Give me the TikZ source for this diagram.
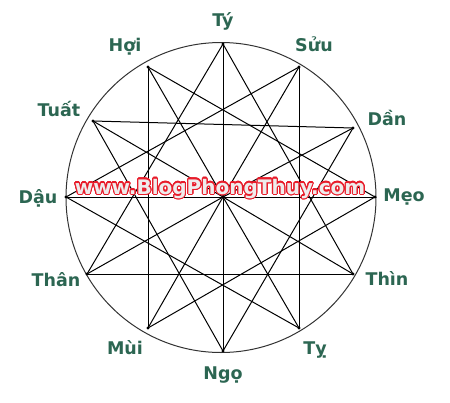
\documentclass[tikz,border=0pt]{standalone}
\usepackage{fontspec}
\setmainfont{DejaVu Sans}
\usepackage[copies]{contour}
\contournumber{24}
\contourlength{1.1pt}
\definecolor{chigreen}{RGB}{44,102,82}
\definecolor{markred}{RGB}{232,28,42}
\definecolor{markfill}{RGB}{238,236,236}
\begin{document}
\begin{tikzpicture}[x=1pt, y=-1pt,
  chi/.style={text=chigreen, font=\bfseries\fontsize{17.5}{20}\selectfont, anchor=base, inner sep=0pt},
  link/.style={line width=1pt, black},
  watermark/.style={font=\bfseries\fontsize{20}{22}\selectfont, anchor=base, inner sep=0pt}]
\useasboundingbox (0,0) rectangle (450,402);
\draw[line width=1pt, black!80] (221,197.5) circle (155pt);
% the twelve branches on the circle
\coordinate (ctr)  at (223,197);
\coordinate (ty)   at (223,44);
\coordinate (suu)  at (299,67);
\coordinate (dan)  at (353,128);
\coordinate (meo)  at (375,197);
\coordinate (thin) at (353,274);
\coordinate (tyj)  at (299,328);
\coordinate (ngo)  at (223,351);
\coordinate (mui)  at (148,328);
\coordinate (than) at (87,274);
\coordinate (dau)  at (66,197);
\coordinate (tuat) at (93,121);
\coordinate (hoi)  at (148,67);
% tam hop triangles
\draw[link] (ty) -- (thin);
\draw[link] (thin) -- (than);
\draw[link] (than) -- (ty);
\draw[link] (suu) -- (tyj);
\draw[link] (tyj) -- (dau);
\draw[link] (dau) -- (suu);
\draw[link] (dan) -- (ngo);
\draw[link] (ngo) -- (tuat);
\draw[link] (tuat) -- (dan);
\draw[link] (meo) -- (mui);
\draw[link] (mui) -- (hoi);
\draw[link] (hoi) -- (meo);
% spokes
\foreach \p in {ty,suu,dan,meo,thin,tyj,ngo,mui,than,dau,tuat,hoi}
  \draw[link] (ctr) -- (\p);
\foreach \p in {ctr,ty,suu,dan,meo,thin,tyj,ngo,mui,than,dau,tuat,hoi}
  \fill (\p) circle (1.7pt);
% labels
\node[chi] (lty)   at (223,26)  {Tý};
\node[chi] (lsuu)  at (314,51.5) {Sửu};
\node[chi] (ldan)  at (387,125) {Dần};
\node[chi] (lmeo)  at (404,201.5) {Mẹo};
\node[chi] (lthin) at (387,285.5) {Thìn};
\node[chi] (ltyj)  at (315,354) {Tỵ};
\node[chi] (lngo)  at (223,379) {Ngọ};
\node[chi] (lmui)  at (125,354) {Mùi};
\node[chi] (lthan) at (56,286.5) {Thân};
\node[chi] (ldau)  at (38,203) {Dậu};
\node[chi] (ltuat) at (59,116) {Tuất};
\node[chi] (lhoi)  at (125,51.5) {Hợi};
\node[watermark] (www) at (220,194) {\contour{markred}{\textcolor{markfill}{www.BlogPhongThuy.com}}};
\end{tikzpicture}
\end{document}
